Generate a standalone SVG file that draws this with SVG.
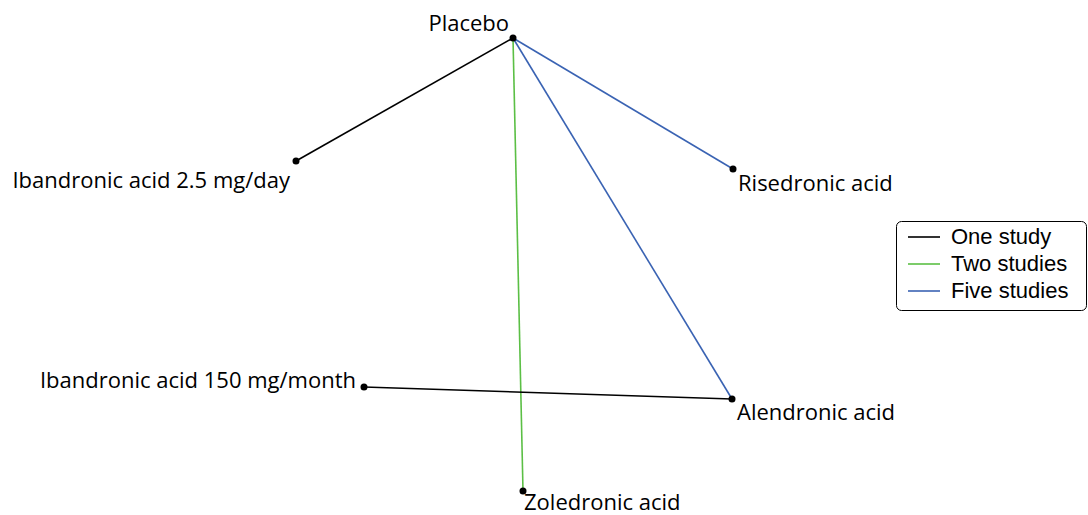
<svg xmlns="http://www.w3.org/2000/svg" width="1088" height="515" viewBox="0 0 1088 515">
<style>
text{font-family:"Open Sans","Noto Sans","Liberation Sans",sans-serif;font-size:22px;fill:#000}
text.lg{font-family:"Liberation Sans",Arial,sans-serif;font-size:22px}
.e{stroke-width:1.6;fill:none}
.one{stroke:#000}
.two{stroke:#5bbf45}
.five{stroke:#3a63b3}
.dot{fill:#000}
</style>
<rect width="1088" height="515" fill="#fff"/>
<g id="connectors">
<line class="e one" x1="513" y1="38" x2="296" y2="161"/>
<line class="e two" x1="513" y1="38" x2="523" y2="491"/>
<line class="e five" x1="513" y1="38" x2="733" y2="169"/>
<line class="e five" x1="513" y1="38" x2="732" y2="399"/>
<line class="e one" x1="364" y1="387" x2="732" y2="399"/>
</g>
<g id="placebo"><circle class="dot" cx="513" cy="38" r="3.5"/><text x="509" y="31" text-anchor="end">Placebo</text></g>
<g id="iban25"><circle class="dot" cx="296" cy="161" r="3.5"/><text x="290" y="188" text-anchor="end">Ibandronic acid 2.5 mg/day</text></g>
<g id="risedronic"><circle class="dot" cx="733" cy="169" r="3.5"/><text x="738" y="191">Risedronic acid</text></g>
<g id="iban150"><circle class="dot" cx="364" cy="387" r="3.5"/><text x="356" y="388" text-anchor="end">Ibandronic acid 150 mg/month</text></g>
<g id="alendronic"><circle class="dot" cx="732" cy="399" r="3.5"/><text x="737" y="420">Alendronic acid</text></g>
<g id="zoledronic"><circle class="dot" cx="523" cy="491" r="3.5"/><text x="524" y="510">Zoledronic acid</text></g>
<g id="legend">
<rect x="896.5" y="221.5" width="190" height="89" rx="5" fill="#fff" stroke="#000" stroke-width="1"/>
<line class="e one" x1="908" y1="237" x2="940" y2="237"/>
<line class="e two" x1="908" y1="264" x2="940" y2="264"/>
<line class="e five" x1="908" y1="291" x2="940" y2="291"/>
<text class="lg" x="951" y="244">One study</text>
<text class="lg" x="951" y="271">Two studies</text>
<text class="lg" x="951" y="298">Five studies</text>
</g>
</svg>
